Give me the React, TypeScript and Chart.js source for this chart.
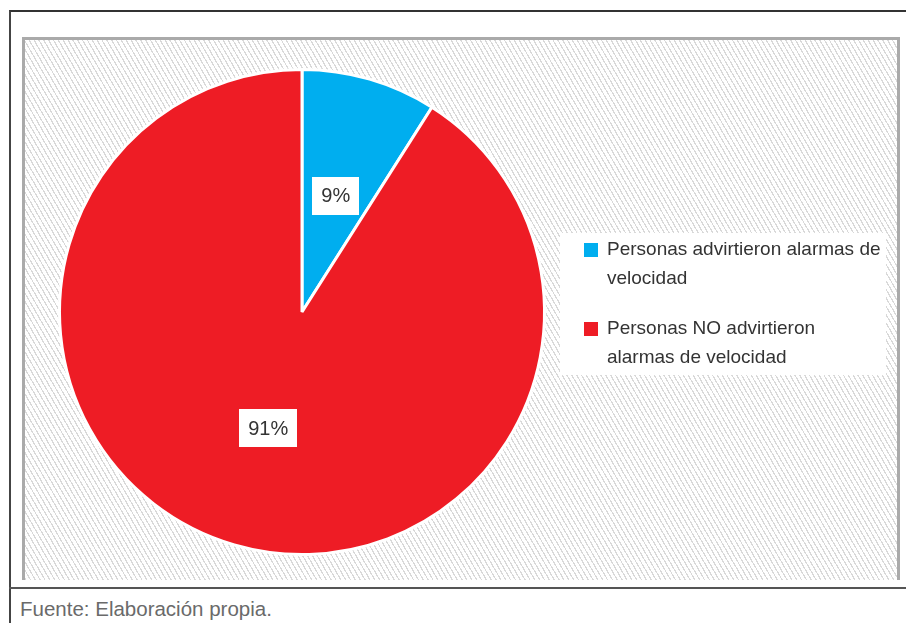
import { useEffect, useRef } from "react";
import { Chart, registerables } from "chart.js";

Chart.register(...registerables);

const categories = [
  "Personas advirtieron alarmas de velocidad",
  "Personas NO advirtieron alarmas de velocidad",
];
const legendLines = [
  ["Personas advirtieron alarmas de", "velocidad"],
  ["Personas NO advirtieron", "alarmas de velocidad"],
];
const values = [9, 91];
const colors = ["#00AEEF", "#EE1C25"];
const sourceNote = "Fuente: Elaboración propia.";

const FONT = "'Liberation Sans', Arial, Helvetica, sans-serif";

const labelPlugin = {
  id: "boxLabels",
  afterDatasetsDraw(chart: any) {
    const ctx = chart.ctx;
    const meta = chart.getDatasetMeta(0);
    ctx.save();
    ctx.font = `20px ${FONT}`;
    ctx.textAlign = "center";
    ctx.textBaseline = "middle";
    meta.data.forEach((arc: any, i: number) => {
      const p = arc.tooltipPosition();
      const text = `${values[i]}%`;
      const w = ctx.measureText(text).width + 18;
      const h = 38;
      ctx.fillStyle = "#ffffff";
      ctx.fillRect(Math.round(p.x - w / 2), Math.round(p.y - h / 2), Math.round(w), h);
      ctx.fillStyle = "#333333";
      ctx.fillText(text, p.x, p.y + 1);
    });
    ctx.restore();
  },
};

const legendPlugin = {
  id: "sideLegend",
  afterDraw(chart: any) {
    const ctx = chart.ctx;
    const boxX = 535;
    const boxY = 193;
    const boxW = 326;
    const boxH = 142;
    ctx.save();
    ctx.fillStyle = "#ffffff";
    ctx.fillRect(boxX, boxY, boxW, boxH);
    ctx.font = `19px ${FONT}`;
    ctx.textBaseline = "middle";
    ctx.textAlign = "left";
    const ds = chart.data.datasets[0];
    chart.data.labels.forEach((_: string, i: number) => {
      const top = boxY + 10 + i * 79;
      ctx.fillStyle = ds.backgroundColor[i];
      ctx.fillRect(boxX + 24, top, 14, 14);
      ctx.fillStyle = "#333333";
      legendLines[i].forEach((line, j) => {
        ctx.fillText(line, boxX + 47, top + 7 + j * 29);
      });
    });
    ctx.restore();
  },
};

export default function App() {
  const ref = useRef<HTMLCanvasElement>(null);

  useEffect(() => {
    if (!ref.current) return;
    const chart = new Chart(ref.current, {
      type: "pie",
      data: {
        labels: categories,
        datasets: [
          {
            data: values,
            backgroundColor: colors,
            borderColor: "#ffffff",
            borderWidth: 3,
            hoverOffset: 0,
          },
        ],
      },
      options: {
        responsive: false,
        animation: false,
        events: [],
        layout: { padding: { left: 33, top: 28, right: 351, bottom: 24 } },
        plugins: {
          legend: { display: false },
          tooltip: { enabled: false },
          title: { display: false },
        },
      },
      plugins: [labelPlugin, legendPlugin],
    });
    return () => chart.destroy();
  }, []);

  return (
    <div
      style={{
        position: "absolute",
        left: 0,
        top: 0,
        width: 906,
        height: 623,
        overflow: "hidden",
        background: "#ffffff",
      }}
    >
      <div
        style={{
          position: "absolute",
          left: 9,
          top: 10,
          width: 920,
          height: 640,
          borderTop: "2px solid #333333",
          borderLeft: "2px solid #444444",
          boxSizing: "border-box",
        }}
      />
      <div
        style={{
          position: "absolute",
          left: 9,
          top: 587,
          width: 920,
          height: 2,
          background: "#555555",
        }}
      />
      <div
        style={{
          position: "absolute",
          left: 22,
          top: 37,
          width: 878,
          height: 543,
          boxSizing: "border-box",
          borderTop: "3px solid #aaaaaa",
          borderLeft: "3px solid #aaaaaa",
          borderRight: "3px solid #aaaaaa",
          background:
            "repeating-linear-gradient(60deg, #d9d9d9 0px, #d9d9d9 1.2px, #ffffff 1.2px, #ffffff 4.2px)",
        }}
      />
      <canvas
        ref={ref}
        width={872}
        height={540}
        style={{ position: "absolute", left: 25, top: 40, width: 872, height: 540 }}
      />
      <div
        style={{
          position: "absolute",
          left: 20,
          top: 599,
          fontFamily: FONT,
          fontSize: "20.5px",
          lineHeight: "20.5px",
          color: "#6a6a6a",
          whiteSpace: "nowrap",
        }}
      >
        {sourceNote}
      </div>
    </div>
  );
}
